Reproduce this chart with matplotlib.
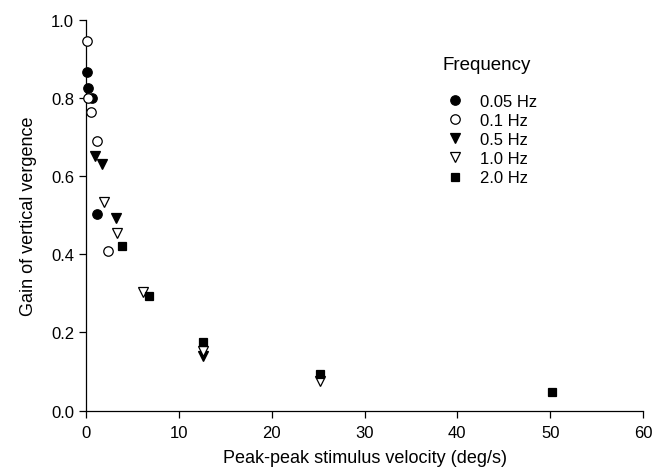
import matplotlib.pyplot as plt

plt.rcParams["font.family"] = ["Liberation Sans", "DejaVu Sans"]

# peak-peak stimulus velocity (deg/s) vs gain, per stimulus frequency
vel_005 = [0.1, 0.25, 0.68, 1.22]
gain_005 = [0.865, 0.825, 0.80, 0.503]

vel_01 = [0.07, 0.25, 0.54, 1.15, 2.4]
gain_01 = [0.944, 0.80, 0.763, 0.69, 0.409]

vel_05 = [0.97, 1.69, 3.2, 12.6]
gain_05 = [0.652, 0.631, 0.492, 0.141]

vel_10 = [1.94, 3.3, 6.1, 12.6, 25.2]
gain_10 = [0.533, 0.454, 0.303, 0.153, 0.075]

vel_20 = [3.9, 6.75, 12.6, 25.2, 50.2]
gain_20 = [0.422, 0.293, 0.176, 0.094, 0.047]

series = [
    ("0.05 Hz", vel_005, gain_005, "o", "black"),
    ("0.1 Hz", vel_01, gain_01, "o", "white"),
    ("0.5 Hz", vel_05, gain_05, "v", "black"),
    ("1.0 Hz", vel_10, gain_10, "v", "white"),
    ("2.0 Hz", vel_20, gain_20, "s", "black"),
]

fig = plt.figure(figsize=(6.67, 4.77), dpi=100)
ax = fig.add_axes([0.129, 0.137, 0.835, 0.82])

for label, x, y, m, fc in series:
    ms = 6.3 if m == "s" else 6.8
    ax.plot(x, y, linestyle="none", marker=m, markersize=ms,
            markerfacecolor=fc, markeredgecolor="black", markeredgewidth=0.9,
            label=label, clip_on=False, zorder=3)

ax.set_xlim(0, 60)
ax.set_ylim(0, 1.0)
ax.set_xticks(range(0, 61, 10))
ax.set_yticks([0.0, 0.2, 0.4, 0.6, 0.8, 1.0])
ax.set_yticklabels(["0.0", "0.2", "0.4", "0.6", "0.8", "1.0"])
ax.tick_params(direction="out", length=5, width=0.9, labelsize=12)
ax.tick_params(axis="x", pad=5)
for s in ["top", "right"]:
    ax.spines[s].set_visible(False)
for s in ["left", "bottom"]:
    ax.spines[s].set_linewidth(0.9)

ax.set_xlabel("Peak-peak stimulus velocity (deg/s)", fontsize=13, labelpad=7)
ax.set_ylabel("Gain of vertical vergence", fontsize=13, labelpad=10)

fig.text(443 / 667, 1 - 65 / 477, "Frequency", fontsize=13.5, ha="left", va="center")
ax.legend(loc="upper left", bbox_to_anchor=(438 / 667, 1 - 88 / 477),
          bbox_transform=fig.transFigure, borderaxespad=0,
          frameon=False, fontsize=12, handletextpad=0.9,
          labelspacing=0.25, handlelength=1.2)

fig.savefig("out.png", dpi=100)
